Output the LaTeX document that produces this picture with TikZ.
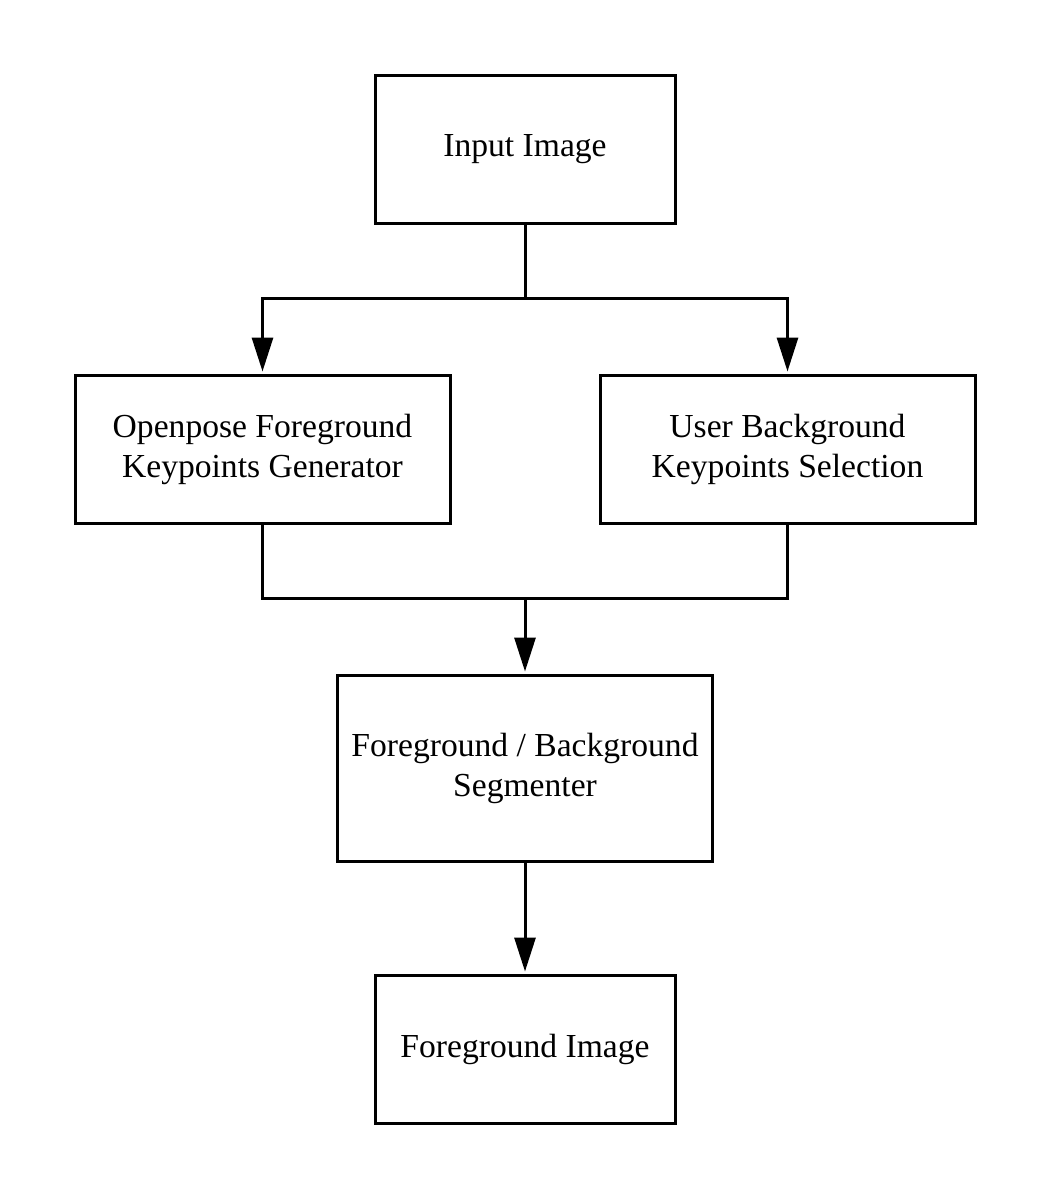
\documentclass[tikz,border=0pt]{standalone}
\usepackage{fontspec}
\setmainfont{Liberation Serif}
\usetikzlibrary{arrows.meta}
\begin{document}
\begin{tikzpicture}[x=1pt,y=-1pt,
  blk/.style={draw,line width=3pt,inner sep=0pt,align=center,font=\fontsize{33.6}{40}\selectfont},
  conn/.style={line width=3pt},
  arr/.style={conn,-{Triangle[length=34pt,width=21pt]},shorten >=2pt}]
\useasboundingbox[fill=white] (0,0) rectangle (1050,1200);
\node[blk,minimum width=300pt,minimum height=148pt] (in) at (525,149) {Input Image};
\node[blk,minimum width=375pt,minimum height=148pt] (op) at (262.5,449) {Openpose Foreground\\Keypoints Generator};
\node[blk,minimum width=375pt,minimum height=148pt] (us) at (787.5,449) {User Background\\Keypoints Selection};
\node[blk,minimum width=375pt,minimum height=186pt] (seg) at (525,768) {Foreground / Background\\Segmenter};
\node[blk,minimum width=300pt,minimum height=148pt] (out) at (525,1049) {Foreground Image};
\coordinate (s1) at (525,298);
\coordinate (s2) at (525,598);
\draw[conn] (in.south) -- (s1);
\draw[arr] (s1) -| (op.north);
\draw[arr] (s1) -| (us.north);
\draw[conn] (op.south) |- (s2) -| (us.south);
\draw[arr] (s2) -- (seg.north);
\draw[arr] (seg.south) -- (out.north);
\end{tikzpicture}
\end{document}
